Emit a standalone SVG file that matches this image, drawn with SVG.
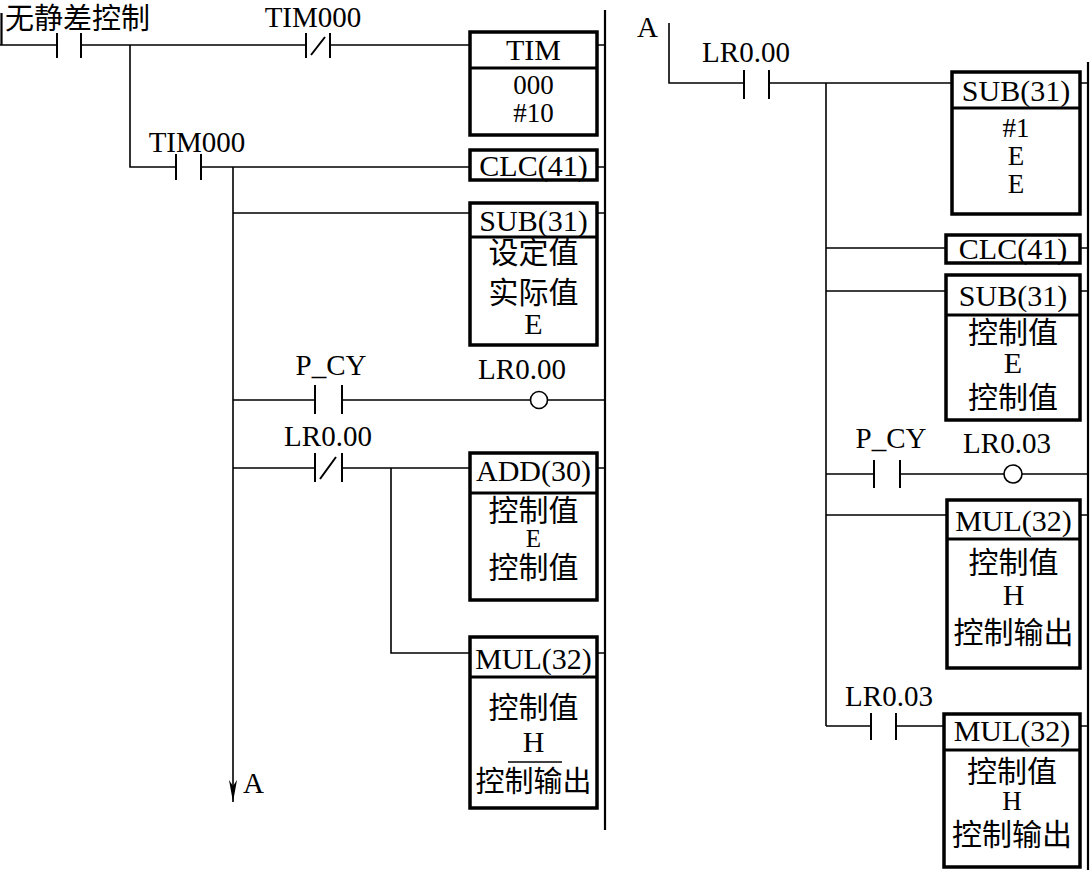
<svg xmlns="http://www.w3.org/2000/svg" width="1090" height="870" viewBox="0 0 1090 870">
<style>
.w{stroke:#000;stroke-width:1.6;fill:none}
.rail{stroke:#000;stroke-width:2.2;fill:none}
.bar{stroke:#000;stroke-width:2;fill:none}
.box{fill:#fff;stroke:#000;stroke-width:3.5}
.dv{stroke:#000;stroke-width:3}
.coil{fill:#fff;stroke:#000;stroke-width:1.6}
text{font-family:"Liberation Serif","Noto Sans CJK SC",serif;fill:#000;font-size:29px}
.c{text-anchor:middle}
.h{font-size:30px}
.t{font-size:27px}
.s{font-size:25px}
</style>
<defs>
<marker id="arr" markerWidth="24" markerHeight="10" refX="22" refY="4" orient="auto" markerUnits="userSpaceOnUse">
<path d="M0,0 L6,4 L0,8 L22,4 Z" fill="#000"/>
</marker>
</defs>
<rect width="1090" height="870" fill="#fff"/>
<g id="rails">
<path class="rail" d="M1.5,13 V45"/>
<path class="rail" d="M605,10 V830"/>
<path class="rail" d="M1088,62 V870"/>
</g>
<g id="connectors">
<path class="w" d="M0,45 H57 M81,45 H306 M330,45 H470 M597,45 H605"/>
<path class="w" d="M130,45 V167 H176 M201,167 H470 M597,167 H605"/>
<path class="w" d="M233,167 V802" marker-end="url(#arr)"/>
<path class="w" d="M233,213 H470 M597,213 H605"/>
<path class="w" d="M233,400 H315 M342,400 H530 M548,400 H605"/>
<path class="w" d="M233,468 H315 M342,468 H470 M597,468 H605"/>
<path class="w" d="M391,468 V653 H470 M597,653 H605"/>
<path class="w" d="M669,23 V83 H744 M769,83 H952 M1080,83 H1088"/>
<path class="w" d="M826,83 V726"/>
<path class="w" d="M826,248 H946 M1080,248 H1088"/>
<path class="w" d="M826,291 H946 M1080,291 H1088"/>
<path class="w" d="M826,474 H874 M900,474 H1004 M1022,474 H1088"/>
<path class="w" d="M826,515 H947 M1080,515 H1088"/>
<path class="w" d="M826,726 H871 M896,726 H944 M1080,726 H1088"/>
</g>
<g id="label-start"><text x="5" y="29">无静差控制</text></g>
<g id="contact-start"><path class="bar" d="M57,33 V58 M81,33 V58"/></g>
<g id="contact-tim000-nc"><path class="bar" d="M306,33 V58 M330,33 V58 M311,55 L325,37"/><text class="c" x="313" y="27">TIM000</text></g>
<g id="box-tim"><rect class="box" x="470" y="32" width="127" height="103"/><path class="dv" d="M470,68 H597"/><text class="c h" x="533.5" y="60">TIM</text><text class="c t" x="533.5" y="94">000</text><text class="c t" x="533.5" y="122">#10</text></g>
<g id="contact-tim000-no"><path class="bar" d="M176,154 V180 M201,154 V180"/><text class="c" x="197" y="152">TIM000</text></g>
<g id="box-clc-1"><rect class="box" x="470" y="150" width="127" height="30"/><text class="c h" x="533.5" y="176">CLC(41)</text></g>
<g id="box-sub-1"><rect class="box" x="470" y="203" width="127" height="142"/><path class="dv" d="M470,237 H597"/><text class="c h" x="533.5" y="231">SUB(31)</text><text class="c h" x="533.5" y="263">设定值</text><text class="c h" x="533.5" y="303">实际值</text><text class="c h" x="533.5" y="334">E</text></g>
<g id="contact-pcy-1"><path class="bar" d="M315,385 V414 M342,385 V414"/><text class="c" x="331" y="375">P_CY</text></g>
<g id="coil-lr000"><circle class="coil" cx="539" cy="400" r="8.5"/><text class="c" x="522" y="379">LR0.00</text></g>
<g id="contact-lr000-nc"><path class="bar" d="M315,453 V482 M342,453 V482 M320,479 L336,457"/><text class="c" x="328" y="446">LR0.00</text></g>
<g id="box-add"><rect class="box" x="470" y="453" width="127" height="147"/><path class="dv" d="M470,493 H597"/><text class="c h" x="533.5" y="481">ADD(30)</text><text class="c h" x="533.5" y="521">控制值</text><text class="c s" x="533.5" y="547">E</text><text class="c h" x="533.5" y="578">控制值</text></g>
<g id="box-mul-1"><rect class="box" x="470" y="637" width="127" height="171"/><path class="dv" d="M470,677 H597"/><text class="c h" x="533.5" y="669">MUL(32)</text><text class="c h" x="533.5" y="718">控制值</text><text class="c h" x="533.5" y="752">H</text><path class="w" d="M508,762 H562"/><text class="c" x="533.5" y="792">控制输出</text></g>
<g id="label-a-out"><text x="243" y="793">A</text></g>
<g id="label-a-in"><text x="637" y="37">A</text></g>
<g id="contact-lr000-no"><path class="bar" d="M744,70 V99 M769,70 V99"/><text class="c" x="746" y="62">LR0.00</text></g>
<g id="box-sub-2"><rect class="box" x="952" y="72" width="128" height="142"/><path class="dv" d="M952,108 H1080"/><text class="c h" x="1016" y="101">SUB(31)</text><text class="c t" x="1016" y="137">#1</text><text class="c t" x="1016" y="165">E</text><text class="c t" x="1016" y="193">E</text></g>
<g id="box-clc-2"><rect class="box" x="946" y="235" width="134" height="28"/><text class="c h" x="1013" y="259">CLC(41)</text></g>
<g id="box-sub-3"><rect class="box" x="946" y="275" width="134" height="145"/><path class="dv" d="M946,315 H1080"/><text class="c h" x="1013" y="306">SUB(31)</text><text class="c h" x="1013" y="343">控制值</text><text class="c h" x="1013" y="373">E</text><text class="c h" x="1013" y="408">控制值</text></g>
<g id="contact-pcy-2"><path class="bar" d="M874,460 V488 M900,460 V488"/><text class="c" x="891" y="448">P_CY</text></g>
<g id="coil-lr003"><circle class="coil" cx="1013" cy="474" r="9"/><text class="c" x="1007" y="453">LR0.03</text></g>
<g id="box-mul-2"><rect class="box" x="947" y="500" width="133" height="168"/><path class="dv" d="M947,539 H1080"/><text class="c h" x="1013.5" y="531">MUL(32)</text><text class="c h" x="1013.5" y="573">控制值</text><text class="c h" x="1013.5" y="605">H</text><text class="c h" x="1013.5" y="643">控制输出</text></g>
<g id="contact-lr003"><path class="bar" d="M871,713 V740 M896,713 V740"/><text class="c" x="889" y="706">LR0.03</text></g>
<g id="box-mul-3"><rect class="box" x="944" y="714" width="136" height="153"/><path class="dv" d="M944,750 H1080"/><text class="c h" x="1012" y="741">MUL(32)</text><text class="c h" x="1012" y="782">控制值</text><text class="c t" x="1012" y="810">H</text><text class="c h" x="1012" y="845">控制输出</text></g>
</svg>
